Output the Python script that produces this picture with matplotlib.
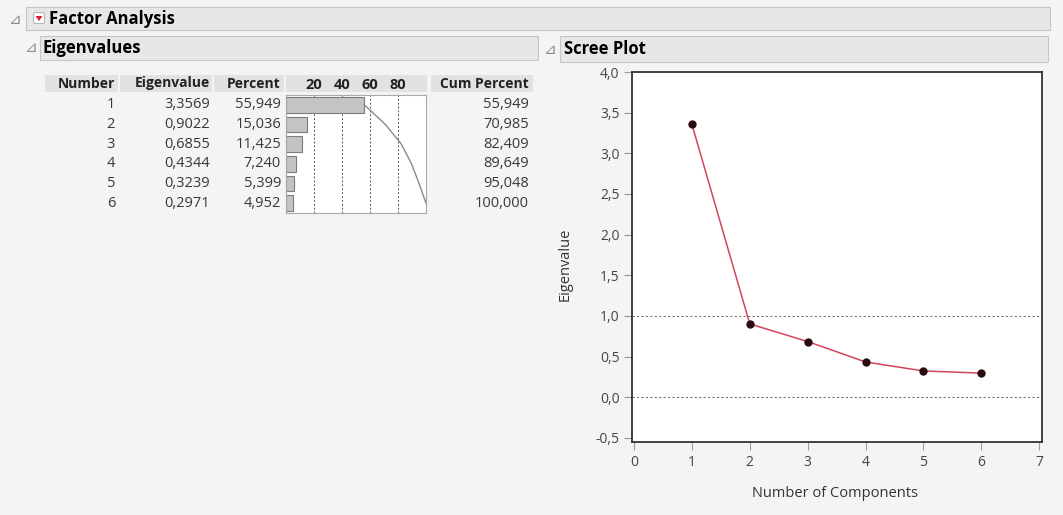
import matplotlib.pyplot as plt
import matplotlib.patches as mpatches
from matplotlib.ticker import FuncFormatter

# data
numbers = [1, 2, 3, 4, 5, 6]
eigenvalues = [3.3569, 0.9022, 0.6855, 0.4344, 0.3239, 0.2971]
percents = [55.949, 15.036, 11.425, 7.240, 5.399, 4.952]
cum_percents = [55.949, 70.985, 82.409, 89.649, 95.048, 100.000]
table_headers = ['Number', 'Eigenvalue', 'Percent', 'Cum Percent']
bar_ticks = [20, 40, 60, 80]
scree_xticks = [0, 1, 2, 3, 4, 5, 6, 7]
scree_yticks = [-0.5, 0.0, 0.5, 1.0, 1.5, 2.0, 2.5, 3.0, 3.5, 4.0]

W, H = 1063, 515
plt.rcParams['font.family'] = ['Open Sans', 'DejaVu Sans']

fig = plt.figure(figsize=(W / 100, H / 100), dpi=100, facecolor='#f4f4f4')
bg = fig.add_axes([0, 0, 1, 1])
bg.set_xlim(0, W)
bg.set_ylim(H, 0)
bg.axis('off')


def px_axes(l, t, r, b):
    return fig.add_axes([l / W, 1 - b / H, (r - l) / W, (b - t) / H])


def band(x0, y0, x1, y1, fc='#e7e7e7', ec='#c6c6c6'):
    bg.add_patch(mpatches.Rectangle((x0, y0), x1 - x0, y1 - y0,
                                    facecolor=fc, edgecolor=ec, lw=0.8))


def comma(v, nd):
    return f'{v:.{nd}f}'.replace('.', ',')


tri = dict(color='#8c8c8c', fontsize=11, va='center', ha='center', family=['DejaVu Sans'])

# outline headers
band(26, 7, 1050, 30)
bg.text(15, 19, '\u22bf', **tri)
bg.add_patch(mpatches.FancyBboxPatch((33.5, 12.5), 11, 11, boxstyle='round,pad=0,rounding_size=2',
                                     facecolor='white', edgecolor='#b4b4b4', lw=0.8))
bg.add_patch(mpatches.Polygon([(35.5, 16), (42.5, 16), (39, 21)], closed=True,
                              facecolor='#d81e2c', edgecolor='none'))
bg.text(49, 19, 'Factor Analysis', fontsize=12, fontweight='bold', va='center')

band(40, 36, 538, 60)
bg.text(31, 48, '\u22bf', **tri)
bg.text(43, 48, 'Eigenvalues', fontsize=12, fontweight='bold', va='center')

band(560, 36, 1048, 62)
bg.text(550, 49, '\u22bf', **tri)
bg.text(564, 49, 'Scree Plot', fontsize=12, fontweight='bold', va='center')

# table header cells
cells = [(45, 118), (120, 212), (214, 284), (286, 427), (431, 533)]
for x0, x1 in cells:
    bg.add_patch(mpatches.Rectangle((x0, 75), x1 - x0, 17, facecolor='#e2e2e2', edgecolor='none'))
right_edges = [115, 210, 281, 529]
for name, xr in zip(table_headers, right_edges):
    bg.text(xr, 83.5, name, fontsize=10, fontweight='bold', ha='right', va='center', color='#222')

row_y = [95 + 118 * (i + 0.5) / 6 for i in range(6)]
for i, y in enumerate(row_y):
    vals = [str(numbers[i]), comma(eigenvalues[i], 4), comma(percents[i], 3), comma(cum_percents[i], 3)]
    for v, xr in zip(vals, right_edges):
        bg.text(xr, y, v, fontsize=10.5, ha='right', va='center', color='#383838')

# percent bar column
axb = px_axes(286, 95, 426, 213)
axb.set_facecolor('white')
axb.barh(numbers, percents, height=0.78, color='#c4c4c4', edgecolor='#7c7c7c', lw=0.8)
axb.plot(cum_percents, numbers, color='#8a8a8a', lw=1)
for t in bar_ticks:
    axb.axvline(t, color='#555555', lw=0.7, ls=(0, (2, 2)), zorder=0)
axb.set_xlim(0, 100)
axb.set_ylim(6.5, 0.5)
axb.xaxis.tick_top()
axb.set_xticks(bar_ticks)
axb.set_xticklabels([str(t) for t in bar_ticks], fontsize=10.5, fontweight='bold', color='#222')
axb.tick_params(axis='x', length=0, pad=2)
axb.set_yticks([])
for s in axb.spines.values():
    s.set_color('#a8a8a8')
    s.set_linewidth(0.8)

# scree plot
ax = px_axes(632, 72, 1042, 442)
ax.set_facecolor('white')
ax.axhline(1.0, color='#777777', lw=0.8, ls=(0, (2, 2)), zorder=1)
ax.axhline(0.0, color='#777777', lw=0.8, ls=(0, (2, 2)), zorder=1)
ax.plot(numbers, eigenvalues, color='#d2455a', lw=1.1, marker='o', ms=5,
        mfc='#2b0b10', mec='#2b0b10', zorder=3)
ax.set_xlim(-0.035, 7.05)
ax.set_ylim(-0.55, 4.0)
ax.set_xticks(scree_xticks)
ax.set_yticks(scree_yticks)
ax.yaxis.set_major_formatter(FuncFormatter(lambda v, p: comma(v, 1)))
ax.tick_params(direction='out', length=6, width=0.8, color='#9a9a9a', labelcolor='#444444',
               labelsize=10, pad=3)
for s in ax.spines.values():
    s.set_color('#333333')
    s.set_linewidth(1.3)
ax.set_xlabel('Number of Components', fontsize=10.5, color='#333333', va='center')
ax.xaxis.set_label_coords(0.495, -0.14)
ax.set_ylabel('Eigenvalue', fontsize=10.5, color='#333333', va='center')
ax.yaxis.set_label_coords(-0.163, 0.48)

fig.savefig('out.png', dpi=100, facecolor=fig.get_facecolor())
